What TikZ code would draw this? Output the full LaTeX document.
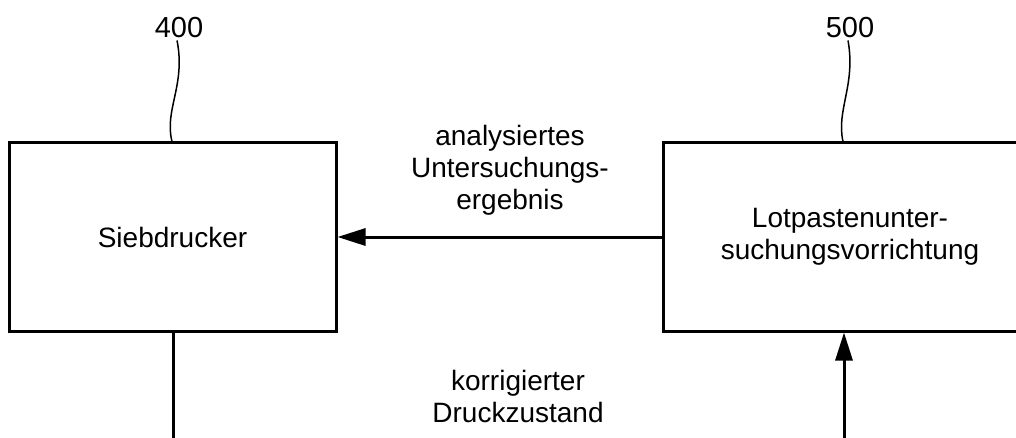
\documentclass[tikz,border=0pt]{standalone}
\usepackage{fontspec}
\setmainfont{Liberation Sans}
\usetikzlibrary{arrows.meta}
\begin{document}
\begin{tikzpicture}[x=1pt,y=-1pt,
  blockbox/.style={draw,line width=3pt,minimum width=#1,minimum height=188pt,inner sep=0pt,
    font=\fontsize{28}{32}\selectfont,align=center},
  midlabel/.style={font=\fontsize{28}{32}\selectfont,align=center,inner sep=0pt},
  reflabel/.style={font=\fontsize{29}{32}\selectfont,inner sep=0pt},
  leader/.style={line width=1.5pt},
  conn/.style={line width=3pt},
  arr/.style={conn,-{Triangle[length=28pt,width=17pt]}}]
\useasboundingbox (0,0) rectangle (1016,438);
\clip (0,0) rectangle (1016,438);
\node[blockbox=327pt] (sd) at (172.5,237) {Siebdrucker};
\node[blockbox=374pt] (lp) at (850,237) {Lotpastenunter-\\suchungsvorrichtung};
\node[reflabel] (n400) at (179,28) {400};
\node[reflabel] (n500) at (850,28) {500};
\draw[leader] (n400.south) ++(-2,2) coordinate (l4a)
  .. controls (186,85) and (164,110) .. (sd.north -| 172,0);
\draw[leader] (n500.south) ++(-2,2) coordinate (l5a)
  .. controls (856,85) and (836,110) .. (lp.north -| 843,0);
\node[midlabel] (res) at (510,170) {analysiertes\\Untersuchungs-\\ergebnis};
\node[midlabel] (kor) at (518,396) {korrigierter\\Druckzustand};
\coordinate (b1) at (173,438);
\coordinate (b2) at (844,438);
\draw[arr] (lp.west) -- (sd.east);
\draw[conn] (sd.south -| b1) -- (b1);
\draw[arr] (b2) -- (lp.south -| b2);
\end{tikzpicture}
\end{document}
